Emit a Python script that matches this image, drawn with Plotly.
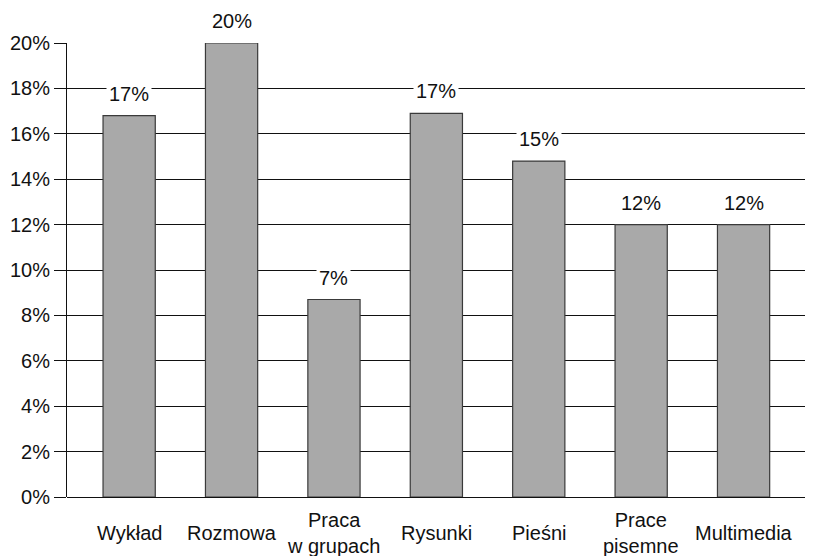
import plotly.graph_objects as go

categories = ["Wykład", "Rozmowa", "Praca<br>w grupach", "Rysunki", "Pieśni", "Prace<br>pisemne", "Multimedia"]
values = [16.8, 20.0, 8.7, 16.9, 14.8, 12.0, 12.0]
value_labels = ["17%", "20%", "7%", "17%", "15%", "12%", "12%"]
y_ticks = [0, 2, 4, 6, 8, 10, 12, 14, 16, 18, 20]
y_tick_labels = ["0%", "2%", "4%", "6%", "8%", "10%", "12%", "14%", "16%", "18%", "20%"]

FONT = "Liberation Sans, Arial, sans-serif"
FS = 20

fig = go.Figure()
fig.add_trace(go.Bar(
    x=categories, y=values, width=0.51,
    marker=dict(color="#a9a9a9", line=dict(color="#3a3a3a", width=1.2)),
    cliponaxis=False, hoverinfo="skip",
))

annotations = []
for c, v, t in zip(categories, values, value_labels):
    annotations.append(dict(x=c, y=v, xref="x", yref="y", text=t, showarrow=False,
                            yshift=22, bgcolor="white", borderpad=2,
                            font=dict(family=FONT, size=FS, color="#111")))
    annotations.append(dict(x=c, y=0, xref="x", yref="paper", text=c, showarrow=False,
                            yanchor="middle", yshift=-36,
                            font=dict(family=FONT, size=FS, color="#111")))

# page body has an 8px default margin, so the figure is drawn 8px smaller and offset
fig.update_layout(
    width=819, height=548,
    margin=dict(l=59, r=22, t=35, b=59),
    paper_bgcolor="white", plot_bgcolor="white",
    showlegend=False,
    annotations=annotations,
    font=dict(family=FONT, size=FS, color="#111"),
    xaxis=dict(showticklabels=False, showgrid=False, showline=False, zeroline=False,
               ticks="", range=[-0.607, 6.6]),
    yaxis=dict(range=[0, 20], tickvals=y_ticks, ticktext=y_tick_labels,
               showgrid=True, gridcolor="#111", gridwidth=1,
               showline=True, linecolor="#111", linewidth=1,
               zeroline=True, zerolinecolor="#111", zerolinewidth=1,
               ticks="outside", ticklen=12, tickcolor="#111", tickwidth=1,
               automargin=False,
               tickfont=dict(family=FONT, size=FS, color="#111")),
)

fig.write_html("out.html")
